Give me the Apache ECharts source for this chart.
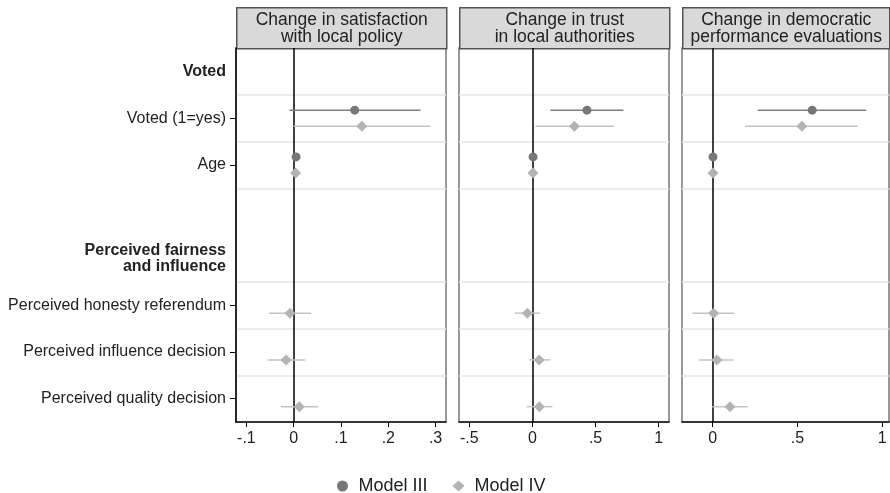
<!DOCTYPE html>
<html>
<head>
<meta charset="utf-8">
<script src="https://cdn.jsdelivr.net/npm/echarts@6/dist/echarts.min.js"></script>
<style>html,body{margin:0;padding:0;background:#fff}#main{width:890px;height:493px}</style>
</head>
<body>
<div id="main"></div>
<script>
// rows of the coefficient plot, top to bottom ('' is an empty spacer row)
var rows = ['Voted', 'Voted (1=yes)', 'Age', '', 'Perceived fairness\nand influence',
    'Perceived honesty referendum', 'Perceived influence decision', 'Perceived quality decision'];
var headerRows = ['Voted', 'Perceived fairness\nand influence'];

var panelTitles = ['Change in satisfaction\nwith local policy', 'Change in trust\nin local authorities',
    'Change in democratic\nperformance evaluations'];
var xTicks = [[-0.1, 0, 0.1, 0.2, 0.3], [-0.5, 0, 0.5, 1], [0, 0.5, 1]];
var xRange = [[-0.122, 0.322], [-0.582, 1.082], [-0.181, 1.04]];

// Model III
var m3Rows = ['Voted (1=yes)', 'Age'];
var m3Coef = [[0.129, 0.005], [0.432, 0.005], [0.587, 0.002]];
var m3Low  = [[-0.009, 0.002], [0.142, 0.001], [0.266, -0.002]];
var m3High = [[0.268, 0.008], [0.721, 0.009], [0.905, 0.006]];

// Model IV
var m4Rows = ['Voted (1=yes)', 'Age', 'Perceived honesty referendum', 'Perceived influence decision', 'Perceived quality decision'];
var m4Coef = [[0.144, 0.004, -0.008, -0.016, 0.012], [0.332, 0.004, -0.040, 0.053, 0.055], [0.526, 0.002, 0.006, 0.025, 0.102]];
var m4Low  = [[0.000, 0.001, -0.052, -0.055, -0.027], [0.024, 0.000, -0.140, -0.026, -0.045], [0.191, -0.002, -0.120, -0.079, -0.002]];
var m4High = [[0.289, 0.007, 0.037, 0.024, 0.052], [0.645, 0.008, 0.060, 0.140, 0.158], [0.856, 0.006, 0.128, 0.122, 0.207]];

var myChart = echarts.init(document.getElementById('main'));
var font = "'Liberation Sans', Arial, Helvetica, sans-serif";
var panelLeft = [236, 459, 682];
var panelWidth = [210, 210, 207];
var plotTop = 48, plotBottom = 71;
var c3 = '#777777', c4 = '#b3b3b3';

function fmtTick(v) {
    return v === 0 ? '0' : String(v).replace('0.', '.');
}

function whisker(dy, color) {
    return function (params, api) {
        var a = api.coord([api.value(0), api.value(2)]);
        var b = api.coord([api.value(1), api.value(2)]);
        return {
            type: 'line',
            shape: {x1: a[0], y1: a[1] + dy, x2: b[0], y2: b[1] + dy},
            style: {stroke: color, lineWidth: 1.5}
        };
    };
}

var grid = [], xAxis = [], yAxis = [], series = [], graphic = [];

// category axes (labels, ticks, grid lines) come first: yAxisIndex 0..2
for (var i = 0; i < 3; i++) {
    grid.push({
        left: panelLeft[i], width: panelWidth[i], top: plotTop, bottom: plotBottom,
        show: true, borderColor: '#777', borderWidth: 1.5, backgroundColor: '#fff'
    });
    xAxis.push({
        type: 'value', gridIndex: i, min: xRange[i][0], max: xRange[i][1],
        axisLine: {show: true, onZero: false, lineStyle: {color: '#000', width: 1.5}},
        axisTick: {show: true, length: 5, customValues: xTicks[i], lineStyle: {color: '#000'}},
        axisLabel: {customValues: xTicks[i], formatter: fmtTick, color: '#222', fontSize: 16, fontFamily: font, margin: 9},
        splitLine: {show: false}
    });
    yAxis.push({
        type: 'category', gridIndex: i, data: rows, inverse: true,
        axisLine: {show: i === 0, onZero: false, lineStyle: {color: '#000', width: 1.5}},
        axisTick: {
            show: i === 0, alignWithLabel: true, length: 6, lineStyle: {color: '#000'},
            interval: function (idx, val) { return val !== '' && headerRows.indexOf(val) < 0; }
        },
        axisLabel: {
            show: i === 0, interval: 0, margin: 10, color: '#222', fontSize: 16, fontFamily: font, align: 'right',
            formatter: function (val) {
                if (headerRows.indexOf(val) >= 0) {
                    return val.split('\n').map(function (s) { return '{b|' + s + '}'; }).join('\n');
                }
                return val;
            },
            rich: {b: {fontWeight: 'bold', fontSize: 16, fontFamily: font, color: '#222', lineHeight: 16}}
        },
        splitLine: {
            show: true, lineStyle: {color: '#e6e6e6', width: 1.5},
            interval: function (idx) { return idx > 0 && rows[idx - 1] !== ''; }
        }
    });
}

// hidden value axes used for plotting: yAxisIndex 3..5
for (var i = 0; i < 3; i++) {
    yAxis.push({type: 'value', gridIndex: i, min: -0.5, max: rows.length - 0.5, inverse: true, show: false});

    series.push({
        name: 'Model III CI', type: 'custom', xAxisIndex: i, yAxisIndex: 3 + i, z: 2,
        renderItem: whisker(-8, '#808080'), encode: {x: [0, 1], y: 2},
        data: m3Rows.map(function (r, k) { return [m3Low[i][k], m3High[i][k], rows.indexOf(r)]; })
    });
    series.push({
        name: 'Model IV CI', type: 'custom', xAxisIndex: i, yAxisIndex: 3 + i, z: 2,
        renderItem: whisker(8, '#c4c4c4'), encode: {x: [0, 1], y: 2},
        data: m4Rows.map(function (r, k) { return [m4Low[i][k], m4High[i][k], rows.indexOf(r)]; })
    });
    series.push({
        name: 'Model III', type: 'scatter', xAxisIndex: i, yAxisIndex: 3 + i, z: 4,
        symbol: 'circle', symbolSize: 9, symbolOffset: [0, -8],
        itemStyle: {color: c3, opacity: 1},
        data: m3Rows.map(function (r, k) { return [m3Coef[i][k], rows.indexOf(r)]; })
    });
    series.push({
        name: 'Model IV', type: 'scatter', xAxisIndex: i, yAxisIndex: 3 + i, z: 4,
        symbol: 'diamond', symbolSize: 11, symbolOffset: [0, 8],
        itemStyle: {color: c4, opacity: 1},
        data: m4Rows.map(function (r, k) { return [m4Coef[i][k], rows.indexOf(r)]; }),
        markLine: {
            silent: true, symbol: 'none', label: {show: false}, z: 1,
            lineStyle: {color: '#000', width: 1.5, type: 'solid'},
            data: [{xAxis: 0}]
        }
    });

    // panel header strip
    graphic.push({
        type: 'group', left: panelLeft[i], top: 7,
        children: [
            {type: 'rect', shape: {x: 0, y: 0, width: panelWidth[i], height: 41},
             style: {fill: '#d9d9d9', stroke: '#555', lineWidth: 1.5}},
            {type: 'text', x: panelWidth[i] / 2, y: 20.5,
             style: {text: panelTitles[i], fill: '#222', font: '17.5px ' + font, lineHeight: 17,
                     align: 'center', verticalAlign: 'middle'}}
        ]
    });
}

var option = {
    animation: false,
    backgroundColor: '#fff',
    grid: grid,
    xAxis: xAxis,
    yAxis: yAxis,
    legend: {
        data: [{name: 'Model III', icon: 'circle'}, {name: 'Model IV', icon: 'diamond'}],
        left: 332, top: 472, itemWidth: 12, itemHeight: 11, itemGap: 25,
        textStyle: {color: '#222', fontSize: 18, fontFamily: font, padding: [0, 0, 0, 5]}
    },
    graphic: graphic,
    series: series
};

myChart.setOption(option);
</script>
</body>
</html>
